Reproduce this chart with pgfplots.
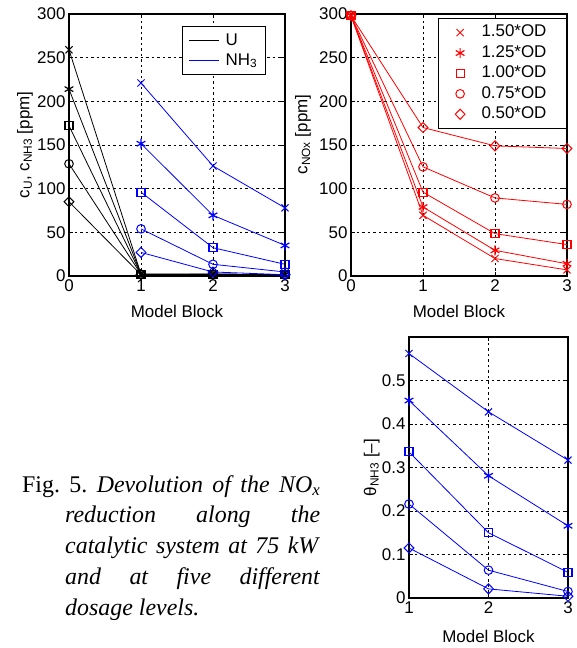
\documentclass[border=0pt]{standalone}
\usepackage{fontspec}
\setmainfont{Liberation Sans}
\newfontfamily\capfont{Liberation Serif}
\usepackage{pgfplots}
\pgfplotsset{compat=1.18}

\pgfplotsset{
  mlab/.style={
    scale only axis,
    axis line style={line width=1.3bp},
    tick align=inside, major tick length=4bp,
    tick style={black, line width=0.5bp},
    grid=major, grid style={black, line width=0.5bp, dash pattern=on 2.5bp off 3bp},
    tick label style={font=\fontsize{17}{17}\selectfont},
    label style={font=\fontsize{17}{17}\selectfont},
    /pgf/number format/assume math mode=true,
    every axis plot/.append style={line width=0.8bp},
  },
  sx/.style={mark=x, mark size=5bp, mark options={solid, line width=1bp}},
  sa/.style={mark=asterisk, mark size=5bp, mark options={solid, line width=1.2bp}},
  ss/.style={mark=square, mark size=4bp, mark options={solid, line width=1.2bp}},
  so/.style={mark=o, mark size=4.3bp, mark options={solid, line width=1bp}},
  sd/.style={mark=diamond, mark size=5bp, mark options={solid, line width=1bp, xscale=1.3}},
  legbox/.style={draw=black, line width=1bp, fill=white,
    font=\fontsize{17}{17}\selectfont,
    row sep=0pt, cells={anchor=west}},
}

\begin{document}
\begin{tikzpicture}
\useasboundingbox (0bp,0bp) rectangle (577bp,-648bp);

% ---- (top left) U and NH3 concentration
\begin{axis}[mlab, at={(69bp,-276bp)}, anchor=south west,
  width=216bp, height=262bp,
  xmin=0, xmax=3, ymin=0, ymax=300,
  xtick={0,1,2,3}, ytick={0,50,100,150,200,250,300},
  xlabel={Model Block},
  xlabel style={at={(axis description cs:0.5,-0.160)}, anchor=base},
  ylabel={c\textsubscript{U}, c\textsubscript{NH3} [ppm]},
  ylabel style={at={(axis description cs:-0.204,0.5)}, anchor=center},
  legend style={legbox, at={(0.523,0.954)}, anchor=north west,
    nodes={inner sep=2bp, text height=12.5bp, text depth=3.5bp},
    inner xsep=6bp, inner ysep=4bp, column sep=4bp},
  legend image code/.code={\draw[#1, line width=1.2bp] (0bp,0bp) -- (30bp,0bp);},
]
\addlegendimage{black}\addlegendentry{U}
\addlegendimage{blue}\addlegendentry{NH\textsubscript{3}}
% U
\addplot[black, sx, forget plot] coordinates {(0,259) (1,2) (2,2) (3,1.5)};
\addplot[black, sa, forget plot] coordinates {(0,214) (1,2) (2,2) (3,1.5)};
\addplot[black, ss, forget plot] coordinates {(0,172) (1,2) (2,2) (3,1.5)};
\addplot[black, so, forget plot] coordinates {(0,128.5) (1,2) (2,2) (3,1.5)};
\addplot[black, sd, forget plot] coordinates {(0,85) (1,1.5) (2,2) (3,1.5)};
% NH3
\addplot[blue, sx, forget plot] coordinates {(1,221) (2,126) (3,78)};
\addplot[blue, sa, forget plot] coordinates {(1,151.5) (2,69.5) (3,35)};
\addplot[blue, ss, forget plot] coordinates {(1,96) (2,32.4) (3,13.4)};
\addplot[blue, so, forget plot] coordinates {(1,54) (2,13.4) (3,4.6)};
\addplot[blue, sd, forget plot] coordinates {(1,27) (2,4.6) (3,1.5)};
\end{axis}

% ---- (top right) NOx concentration
\begin{axis}[mlab, at={(351bp,-276bp)}, anchor=south west,
  width=216bp, height=262bp,
  xmin=0, xmax=3, ymin=0, ymax=300,
  xtick={0,1,2,3}, ytick={0,50,100,150,200,250,300},
  xlabel={Model Block},
  xlabel style={at={(axis description cs:0.5,-0.160)}, anchor=base},
  ylabel={c\textsubscript{NOx} [ppm]},
  ylabel style={at={(axis description cs:-0.222,0.54)}, anchor=center},
  legend style={legbox, at={(1,0.985)}, anchor=north east,
    nodes={inner sep=2bp, text height=12.5bp, text depth=3.9bp, text width=66.5bp},
    inner xsep=16.5bp, inner ysep=4bp, column sep=14.5bp},
]
\addplot[red, sx, forget plot] coordinates {(0,298) (1,69.5) (2,20) (3,7)};
\addplot[red, sa, forget plot] coordinates {(0,298) (1,79) (2,29.4) (3,14)};
\addplot[red, ss, forget plot] coordinates {(0,298) (1,96) (2,48.5) (3,36)};
\addplot[red, so, forget plot] coordinates {(0,298) (1,125) (2,89.4) (3,82)};
\addplot[red, sd, forget plot] coordinates {(0,298) (1,170) (2,149) (3,146)};
\addlegendimage{red, only marks, sx}\addlegendentry{1.50*OD}
\addlegendimage{red, only marks, sa}\addlegendentry{1.25*OD}
\addlegendimage{red, only marks, ss}\addlegendentry{1.00*OD}
\addlegendimage{red, only marks, so}\addlegendentry{0.75*OD}
\addlegendimage{red, only marks, sd}\addlegendentry{0.50*OD}
\end{axis}

% ---- (bottom right) NH3 coverage
\begin{axis}[mlab, at={(409bp,-598bp)}, anchor=south west,
  width=159bp, height=261bp,
  xmin=1, xmax=3, ymin=0, ymax=0.6,
  xtick={1,2,3}, ytick={0,0.1,0.2,0.3,0.4,0.5},
  xlabel={Model Block},
  xlabel style={at={(axis description cs:0.5,-0.169)}, anchor=base},
  ylabel={θ\textsubscript{NH3} [--]},
  ylabel style={at={(axis description cs:-0.235,0.5)}, anchor=center},
]
\addplot[blue, sx] coordinates {(1,0.562) (2,0.428) (3,0.317)};
\addplot[blue, sa] coordinates {(1,0.454) (2,0.281) (3,0.166)};
\addplot[blue, ss] coordinates {(1,0.336) (2,0.150) (3,0.059)};
\addplot[blue, so] coordinates {(1,0.216) (2,0.064) (3,0.015)};
\addplot[blue, sd] coordinates {(1,0.115) (2,0.021) (3,0.004)};
\end{axis}

% ---- caption
\node[anchor=north west, inner sep=0pt, font=\capfont\fontsize{24}{31}\selectfont]
  at (22bp,-475bp)
  {\parbox[t]{298bp}{\frenchspacing\leftskip=43bp\parindent=-43bp\indent
   Fig. 5. \textit{Devolution of the NO\textsubscript{x}}\linebreak
   \textit{reduction along the}\linebreak
   \textit{catalytic system at 75 kW}\linebreak
   \textit{and at five different}\linebreak
   \textit{dosage levels.}\par}};
\end{tikzpicture}
\end{document}
